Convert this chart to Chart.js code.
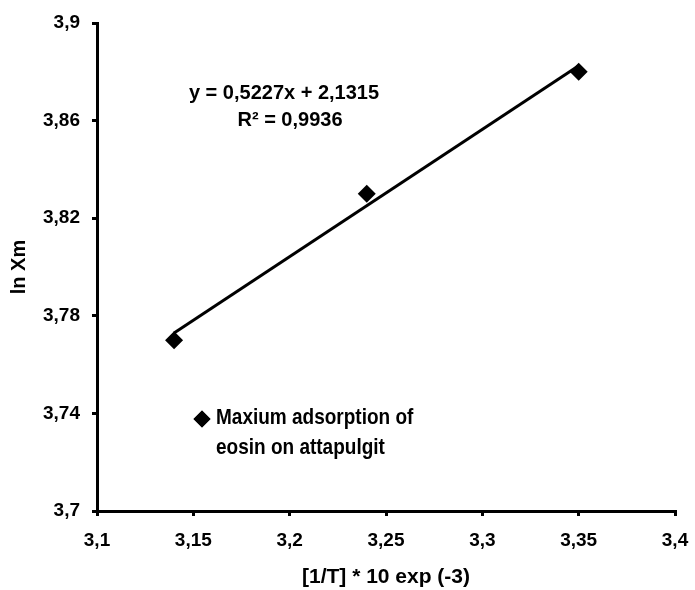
<!DOCTYPE html>
<html>
<head>
<meta charset="utf-8">
<script src="https://cdn.jsdelivr.net/npm/chart.js@4.5.1/dist/chart.umd.min.js"></script>
<style>
  html, body { margin: 0; padding: 0; background: #fff; }
  #wrap { width: 695px; height: 590px; }
</style>
</head>
<body>
<div id="wrap"><canvas id="chart" width="695" height="590"></canvas></div>
<script>
// ── data ────────────────────────────────────────────────────────────────
const X_VALUES = [3.14, 3.24, 3.35];
const Y_VALUES = [3.77, 3.83, 3.88];
const TREND_X = [3.14, 3.35];
const TREND_Y = [3.773, 3.8825];
const X_TICKS = [3.1, 3.15, 3.2, 3.25, 3.3, 3.35, 3.4];
const Y_TICKS = [3.7, 3.74, 3.78, 3.82, 3.86, 3.9];
const SERIES_NAME = ['Maxium adsorption of', 'eosin on attapulgit'];
const EQUATION = ['y = 0,5227x + 2,1315', 'R² = 0,9936'];

const FONT = '"Liberation Sans", Arial, sans-serif';
const fmt = (v) => String(Math.round(v * 1000) / 1000).replace('.', ',');

// ── text overlay: equation + in-plot legend ─────────────────────────────
const overlay = {
  id: 'overlay',
  afterDatasetsDraw(chart) {
    const ctx = chart.ctx;
    ctx.save();
    ctx.fillStyle = '#000';
    ctx.textBaseline = 'middle';

    ctx.font = 'bold 20px ' + FONT;
    ctx.textAlign = 'center';
    ctx.fillText(EQUATION[0], 284, 93);
    ctx.fillText(EQUATION[1], 290, 120);

    Chart.helpers.drawPoint(ctx, { pointStyle: 'rectRot', radius: 8.5, borderWidth: 0 }, 202, 419);
    ctx.fill();

    // legend text is slightly taller than wide in the original
    ctx.font = 'bold 19px ' + FONT;
    ctx.textAlign = 'left';
    [[SERIES_NAME[0], 418], [SERIES_NAME[1], 448]].forEach(([t, y]) => {
      ctx.save();
      ctx.translate(216, y);
      ctx.scale(1, 1.12);
      ctx.fillText(t, 0, 0);
      ctx.restore();
    });
    ctx.restore();
  }
};

new Chart(document.getElementById('chart'), {
  type: 'scatter',
  data: {
    datasets: [
      {
        label: 'trend',
        type: 'line',
        data: TREND_X.map((x, i) => ({ x, y: TREND_Y[i] })),
        borderColor: '#000',
        borderWidth: 3,
        pointRadius: 0,
        fill: false,
      },
      {
        label: SERIES_NAME.join(' '),
        data: X_VALUES.map((x, i) => ({ x, y: Y_VALUES[i] })),
        backgroundColor: '#000',
        borderColor: '#000',
        pointStyle: 'rectRot',
        pointRadius: 9,
        pointBorderWidth: 0,
      },
    ],
  },
  options: {
    responsive: false,
    animation: false,
    layout: { padding: { top: 23, right: 20, left: 0, bottom: 0 } },
    plugins: { legend: { display: false }, tooltip: { enabled: false } },
    scales: {
      x: {
        type: 'linear',
        min: 3.1, max: 3.4,
        afterBuildTicks: (s) => { s.ticks = X_TICKS.map((v) => ({ value: v })); },
        afterFit: (s) => { s.height = 79; s.paddingLeft = 0; s.paddingRight = 0; },
        ticks: {
          color: '#000',
          font: { family: FONT, size: 19, weight: 'bold' },
          padding: 13,
          callback: fmt,
          maxRotation: 0,
        },
        grid: { drawOnChartArea: false, drawTicks: true, tickLength: 5, color: '#000', lineWidth: 3 },
        border: { display: true, color: '#000', width: 3 },
        title: {
          display: true,
          text: '[1/T] * 10 exp (-3)',
          color: '#000',
          font: { family: FONT, size: 21, weight: 'bold' },
          padding: { top: 0, bottom: 0 },
        },
      },
      y: {
        type: 'linear',
        min: 3.7, max: 3.9,
        afterBuildTicks: (s) => { s.ticks = Y_TICKS.map((v) => ({ value: v })); },
        afterFit: (s) => { s.width = 97; s.paddingTop = 0; s.paddingBottom = 0; },
        ticks: {
          color: '#000',
          font: { family: FONT, size: 19, weight: 'bold' },
          padding: 12,
          callback: fmt,
        },
        grid: { drawOnChartArea: false, drawTicks: true, tickLength: 5, color: '#000', lineWidth: 3 },
        border: { display: true, color: '#000', width: 3 },
        title: {
          display: true,
          text: 'ln Xm',
          color: '#000',
          font: { family: FONT, size: 20, weight: 'bold' },
          padding: { top: 7, bottom: 0 },
        },
      },
    },
  },
  plugins: [overlay],
});
</script>
</body>
</html>
